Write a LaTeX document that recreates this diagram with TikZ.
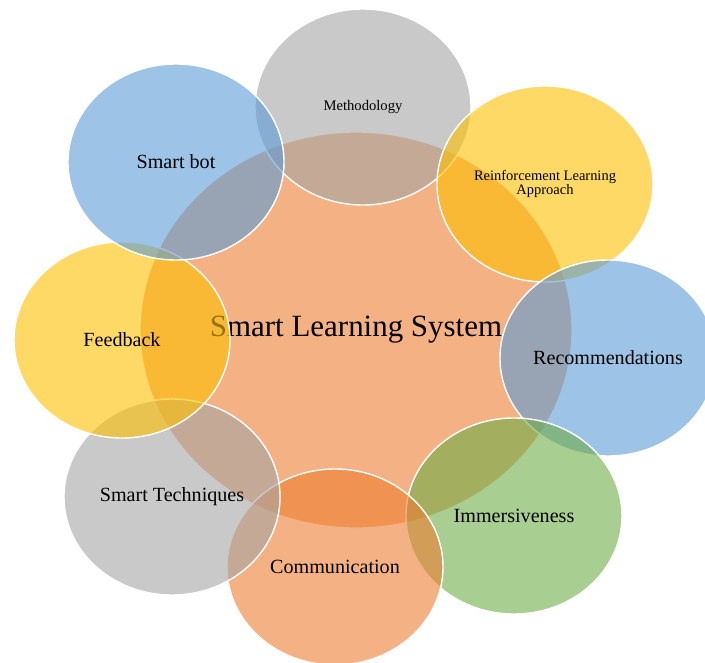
\documentclass[tikz,border=0pt]{standalone}
\usepackage{fontspec}
\setmainfont{Liberation Serif}
\usetikzlibrary{shapes.geometric}
\definecolor{slsorange}{RGB}{237,125,49}
\definecolor{slsblue}{RGB}{91,155,213}
\definecolor{slsgray}{RGB}{165,165,165}
\definecolor{slsyellow}{RGB}{255,192,0}
\definecolor{slsgreen}{RGB}{112,173,71}
\tikzset{
  bubble/.style={ellipse, draw=white, line width=1pt, fill opacity=0.6,
    text opacity=1, text=black, inner sep=0pt,
    minimum width=5.4cm, minimum height=4.9cm, font=\fontsize{14.3}{16}\selectfont},
  hub/.style={bubble, minimum width=10.8cm, minimum height=9.9cm,
    font=\fontsize{22}{26}\selectfont}
}

\begin{document}
\begin{tikzpicture}[x=0.025cm, y=-0.025cm]
\useasboundingbox (0, 0) rectangle (705, 663);
\node [hub, fill=slsorange] (system) at (356, 330) {Smart Learning System};
\node [bubble, fill=slsgray, font=\fontsize{10.4}{12}\selectfont] (method) at (363, 107) {Methodology};
\node [bubble, fill=slsyellow, align=center, font=\fontsize{10.3}{8.5}\selectfont] (reinforce) at (545, 184) {Reinforcement Learning\\Approach};
\node [bubble, fill=slsblue] (recommend) at (608, 358) {Recommendations};
\node [bubble, fill=slsgreen] (immerse) at (514, 516) {Immersiveness};
\node [bubble, fill=slsorange] (communicate) at (335, 567) {Communication};
\node [bubble, fill=slsgray] (techniques) at (172, 497) {Smart Techniques};
\node [bubble, fill=slsyellow] (feedback) at (122, 340) {Feedback};
\node [bubble, fill=slsblue] (smartbot) at (176, 162) {Smart bot};
\end{tikzpicture}
\end{document}
